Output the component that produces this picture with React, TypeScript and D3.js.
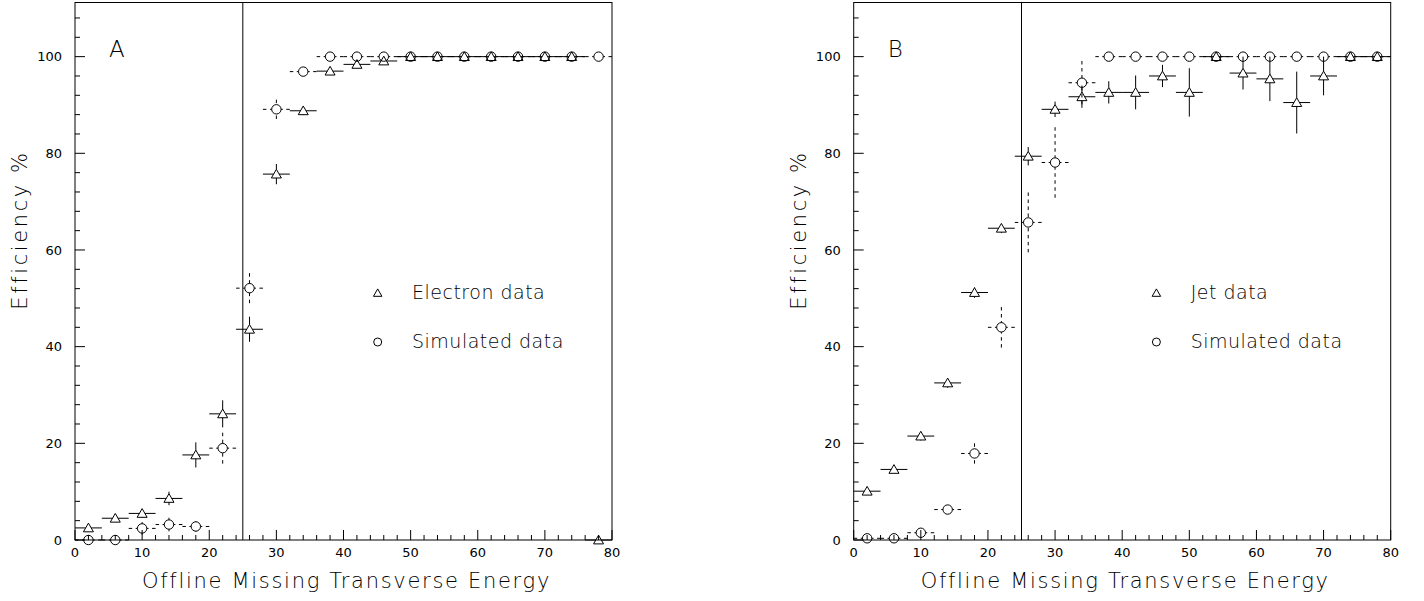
import React from "react";
import * as d3 from "d3";

// ---- data ----
const binCenters = [2, 6, 10, 14, 18, 22, 26, 30, 34, 38, 42, 46, 50, 54, 58, 62, 66, 70, 74, 78];
const binHalfWidth = 2;

const electronEff = [2.5, 4.5, 5.5, 8.6, 17.6, 26.1, 43.6, 75.7, 88.8, 97.0, 98.4, 99.1, 100, 100, 100, 100, 100, 100, 100, 0];
const electronErr = [0.6, 0.8, 0.9, 1.4, 2.6, 2.8, 2.6, 2.1, 0.9, 0.7, 0.5, 0.4, 0, 0, 0, 0, 0, 0, 0, 0];
const simAEff = [0, 0, 2.4, 3.2, 2.8, 19.0, 52.1, 89.1, 96.9, 100, 100, 100, 100, 100, 100, 100, 100, 100, 100, 100];
const simAErr = [0, 0, 1.3, 1.4, 1.1, 3.2, 3.1, 2.0, 0.8, 0, 0, 0, 0, 0, 0, 0, 0, 0, 0, 0];

const jetEff = [10.1, 14.6, 21.5, 32.5, 51.2, 64.5, 79.4, 89.1, 91.7, 92.6, 92.6, 96.0, 92.6, 100, 96.6, 95.4, 90.5, 96.0, 100, 100];
const jetErr = [0.7, 0.8, 0.9, 1.0, 1.1, 1.0, 1.9, 1.6, 2.3, 2.3, 3.5, 2.3, 5.0, 0, 3.4, 4.6, 6.4, 4.0, 0, 0];
const simBEff = [0.35, 0.35, 1.5, 6.3, 17.9, 44.0, 65.7, 78.1, 94.6, 100, 100, 100, 100, 100, 100, 100, 100, 100, 100, 100];
const simBErr = [0.2, 0.2, 0.6, 0.9, 2.1, 4.2, 6.2, 7.3, 4.5, 0, 0, 0, 0, 0, 0, 0, 0, 0, 0, 0];

const xMajorTicks = [0, 10, 20, 30, 40, 50, 60, 70, 80];
const yMajorTicks = [0, 20, 40, 60, 80, 100];
const cutValue = 25;

const xTitle = "Offline Missing Transverse Energy";
const yTitle = "Efficiency %";

const FONT = "'DejaVu Sans', sans-serif";

type PanelProps = {
  left: number;
  label: string;
  dataName: string;
  dataEff: number[];
  dataErr: number[];
  simEff: number[];
  simErr: number[];
};

const TRI_UP = 4.8;
const TRI_DOWN = 3.9;
const TRI_HALF = 5;
const CIRC_R = 4.7;

function triPath(cx: number, cy: number, s = 1) {
  return `M${cx},${cy - TRI_UP * s} L${cx + TRI_HALF * s},${cy + TRI_DOWN * s} L${cx - TRI_HALF * s},${cy + TRI_DOWN * s} Z`;
}

function Panel({ left, label, dataName, dataEff, dataErr, simEff, simErr }: PanelProps) {
  const right = left + 537;
  const top = 2.5;
  const bottom = 540;
  const x = d3.scaleLinear().domain([0, 80]).range([left, right]);
  const y = d3.scaleLinear().domain([0, 111.2]).range([bottom, top]);

  const xMinor = d3.range(0, 81, 2).filter((v) => v % 10 !== 0);
  const yMinor = d3.range(0, 111, 4).filter((v) => v % 20 !== 0);
  const dash = "3.5,3.5";

  return (
    <g>
      {/* frame */}
      <rect x={left} y={top} width={right - left} height={bottom - top} fill="none" stroke="#000" strokeWidth={1} />
      {/* x ticks */}
      {xMajorTicks.map((t) => (
        <line key={"xM" + t} x1={x(t)} x2={x(t)} y1={bottom} y2={bottom - 10} stroke="#000" />
      ))}
      {xMinor.map((t) => (
        <line key={"xm" + t} x1={x(t)} x2={x(t)} y1={bottom} y2={bottom - 5} stroke="#000" />
      ))}
      {xMajorTicks.map((t) => (
        <text key={"xl" + t} x={x(t)} y={557} fontSize={13} fontFamily={FONT} textAnchor="middle" fill="#000">
          {t}
        </text>
      ))}
      {/* y ticks */}
      {yMajorTicks.map((t) => (
        <line key={"yM" + t} x1={left} x2={left + 10} y1={y(t)} y2={y(t)} stroke="#000" />
      ))}
      {yMinor.map((t) => (
        <line key={"ym" + t} x1={left} x2={left + 5} y1={y(t)} y2={y(t)} stroke="#000" />
      ))}
      {yMajorTicks.map((t) => (
        <text key={"yl" + t} x={left - 13} y={y(t) + 4.7} fontSize={13} fontFamily={FONT} textAnchor="end" fill="#000">
          {t}
        </text>
      ))}
      {/* titles */}
      <text x={(left + right) / 2 + 3} y={588} fontSize={21} fontFamily={FONT} fontWeight={200} textAnchor="middle" fill="#000" letterSpacing={1.7}>
        {xTitle}
      </text>
      <text
        transform={`translate(${left - 48},230) rotate(-90)`}
        fontSize={21}
        fontFamily={FONT}
        fontWeight={200}
        textAnchor="middle"
        fill="#000"
        letterSpacing={2.6}
      >
        {yTitle}
      </text>
      <text x={left + 34} y={57} fontSize={23} fontFamily={FONT} fontWeight={200} fill="#000">
        {label}
      </text>
      {/* cut line */}
      <line x1={x(cutValue)} x2={x(cutValue)} y1={top} y2={bottom} stroke="#000" />

      {/* simulated: circles with dashed bars */}
      {binCenters.map((b, i) => {
        const cx = x(b);
        const cy = y(simEff[i]);
        const x0 = x(b - binHalfWidth);
        const x1 = x(b + binHalfWidth);
        const ey = y(simEff[i] + simErr[i]);
        const ey2 = y(simEff[i] - simErr[i]);
        return (
          <g key={"s" + i}>
            <line x1={x0} x2={cx - CIRC_R} y1={cy} y2={cy} stroke="#000" strokeDasharray={dash} />
            <line x1={x1} x2={cx + CIRC_R} y1={cy} y2={cy} stroke="#000" strokeDasharray={dash} />
            {cy - ey > CIRC_R && <line x1={cx} x2={cx} y1={ey} y2={cy - CIRC_R} stroke="#000" strokeDasharray={dash} />}
            {ey2 - cy > CIRC_R && <line x1={cx} x2={cx} y1={Math.min(ey2, bottom)} y2={cy + CIRC_R} stroke="#000" strokeDasharray={dash} />}
            <circle cx={cx} cy={cy} r={CIRC_R} fill="none" stroke="#000" />
          </g>
        );
      })}

      {/* data: triangles with solid bars */}
      {binCenters.map((b, i) => {
        const cx = x(b);
        const cy = y(dataEff[i]);
        const x0 = x(b - binHalfWidth);
        const x1 = x(b + binHalfWidth);
        const ey = y(dataEff[i] + dataErr[i]);
        const ey2 = y(dataEff[i] - dataErr[i]);
        return (
          <g key={"d" + i}>
            <line x1={x0} x2={cx - TRI_HALF * 0.55} y1={cy} y2={cy} stroke="#000" />
            <line x1={x1} x2={cx + TRI_HALF * 0.55} y1={cy} y2={cy} stroke="#000" />
            {cy - ey > TRI_UP && <line x1={cx} x2={cx} y1={ey} y2={cy - TRI_UP} stroke="#000" />}
            {ey2 - cy > TRI_DOWN && <line x1={cx} x2={cx} y1={Math.min(ey2, bottom)} y2={cy + TRI_DOWN} stroke="#000" />}
            <path d={triPath(cx, cy)} fill="none" stroke="#000" />
          </g>
        );
      })}

      {/* legend */}
      <path d={triPath(left + 302.7, 293, 0.85)} fill="none" stroke="#000" />
      <text x={left + 337} y={299} fontSize={19} fontFamily={FONT} fontWeight={200} fill="#000" letterSpacing={0.5}>
        {dataName}
      </text>
      <circle cx={left + 302.7} cy={342} r={4} fill="none" stroke="#000" />
      <text x={left + 337} y={348} fontSize={19} fontFamily={FONT} fontWeight={200} fill="#000" letterSpacing={0.5}>
        Simulated data
      </text>
    </g>
  );
}

export default function App() {
  return (
    <svg
      width={1424}
      height={601}
      style={{ position: "absolute", left: 0, top: 0, display: "block", background: "#fff" }}
    >
      <rect x={0} y={0} width={1424} height={601} fill="#fff" />
      <Panel
        left={75}
        label="A"
        dataName="Electron data"
        dataEff={electronEff}
        dataErr={electronErr}
        simEff={simAEff}
        simErr={simAErr}
      />
      <Panel
        left={853.7}
        label="B"
        dataName="Jet data"
        dataEff={jetEff}
        dataErr={jetErr}
        simEff={simBEff}
        simErr={simBErr}
      />
    </svg>
  );
}
